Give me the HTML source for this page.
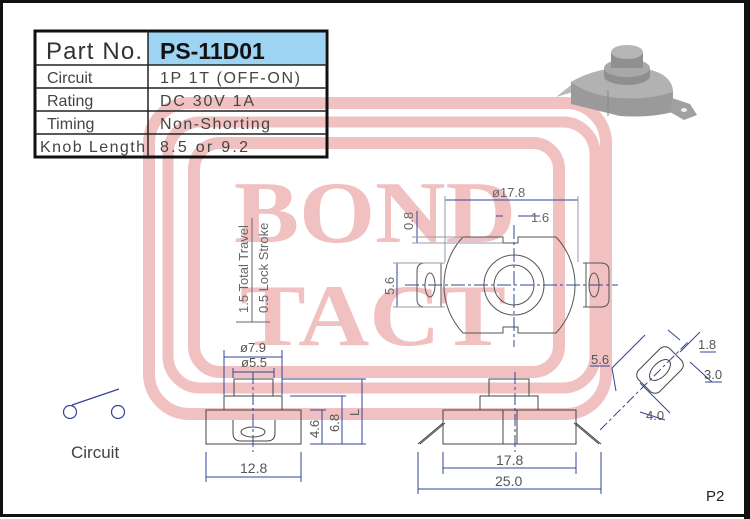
<!DOCTYPE html>
<html><head><meta charset="utf-8"><style>
html,body{margin:0;padding:0;background:#fff;}
svg{display:block;}
.s{font-family:"Liberation Sans",sans-serif;}
.wm{font-family:"Liberation Serif",serif;font-weight:bold;}
</style></head><body>
<svg width="750" height="519" viewBox="0 0 750 519" xmlns="http://www.w3.org/2000/svg">
<rect x="0" y="0" width="750" height="519" fill="#fff"/>
<rect x="1.5" y="1.5" width="745" height="514" fill="none" stroke="#111" stroke-width="3"/>
<rect x="744" y="0" width="6" height="519" fill="#111"/>

<!-- Watermark (under drawing) -->
<g fill="none" stroke="#f1c0c0">
<rect x="149" y="103" width="457" height="311" rx="40" stroke-width="12"/>
<rect x="168" y="122" width="427" height="266" rx="32" stroke-width="11"/>
<rect x="194" y="143" width="365" height="229" rx="26" stroke-width="12"/>
</g>
<g fill="#f1c0c0" class="wm">
<text x="375" y="242" font-size="88" text-anchor="middle" textLength="282" lengthAdjust="spacingAndGlyphs">BOND</text>
<text x="373" y="345" font-size="88" text-anchor="middle" textLength="266" lengthAdjust="spacingAndGlyphs">TACT</text>
</g>

<g class="s">
<!-- Table -->
<rect x="148" y="32" width="177" height="33" fill="#9dd4f3"/>
<rect x="35" y="31" width="292" height="126" fill="none" stroke="#111" stroke-width="3"/>
<g stroke="#222" stroke-width="1.5">
<line x1="35" y1="65" x2="327" y2="65"/><line x1="35" y1="88" x2="327" y2="88"/>
<line x1="35" y1="111" x2="327" y2="111"/><line x1="35" y1="134" x2="327" y2="134"/>
<line x1="148" y1="31" x2="148" y2="157"/>
</g>
<g fill="#444" font-size="16">
<text x="46" y="59" font-size="24" fill="#333" textLength="96" lengthAdjust="spacing">Part No.</text>
<text x="160" y="59" font-size="23" font-weight="bold" fill="#111">PS-11D01</text>
<text x="47" y="83">Circuit</text><text x="160" y="83" textLength="140">1P 1T (OFF-ON)</text>
<text x="47" y="106">Rating</text><text x="160" y="106" textLength="94">DC 30V 1A</text>
<text x="47" y="129">Timing</text><text x="160" y="129" textLength="110">Non-Shorting</text>
<text x="40" y="152" textLength="105">Knob Length</text><text x="160" y="152" textLength="88">8.5 or 9.2</text>
</g>

<!-- photo -->
<g>
<polygon points="556,97 580,78 580,90" fill="#bbb"/>
<path d="M571,82 Q600,65 640,68 Q672,72 673,92 L673,112 Q650,118 620,116 L571,104 Z" fill="#9a9a9a"/>
<path d="M571,82 Q600,65 640,68 Q672,72 673,92 Q650,100 620,98 Q590,96 571,82 Z" fill="#b2b2b2"/>
<line x1="608" y1="90" x2="608" y2="116" stroke="#888"/>
<ellipse cx="627" cy="76" rx="23" ry="9" fill="#8f8f8f"/>
<rect x="604" y="68" width="46" height="8" fill="#8f8f8f"/>
<ellipse cx="627" cy="68" rx="23" ry="9" fill="#a8a8a8"/>
<rect x="611" y="52" width="32" height="16" fill="#909090"/>
<ellipse cx="627" cy="52" rx="16" ry="7" fill="#b5b5b5"/>
<polygon points="672,98 690,104 697,115 684,120 670,112" fill="#a0a0a0"/>
<ellipse cx="684" cy="110" rx="3" ry="2" fill="#eee"/>
</g>

<!-- Top view -->
<g fill="none" stroke="#555" stroke-width="1">
<path d="M463,237 L503,237 L503,243 L518,243 L518,237 L556,237 A70,70 0 0 1 556,333 L518,333 L518,327 L503,327 L503,333 L463,333 A70,70 0 0 1 463,237 Z"/>
<circle cx="514" cy="285" r="30"/><circle cx="514" cy="285" r="20"/>
<path d="M445,263 L425,263 Q417,263 417,271 L417,299 Q417,307 425,307 L445,307"/>
<line x1="441" y1="263" x2="441" y2="307"/>
<ellipse cx="430" cy="285" rx="5" ry="12"/>
<path d="M583,263 L601,263 Q609,263 609,271 L609,299 Q609,307 601,307 L583,307"/>
<line x1="586" y1="263" x2="586" y2="307"/>
<ellipse cx="594" cy="285" rx="5" ry="12"/>
</g>
<g stroke="#334499" stroke-width="1" fill="none">
<line x1="405" y1="285" x2="618" y2="285" stroke-dasharray="14,3,3,3"/>
<line x1="514" y1="225" x2="514" y2="347" stroke-dasharray="14,3,3,3"/>
<line x1="445" y1="200" x2="578" y2="200"/>
<line x1="445" y1="196" x2="445" y2="262" stroke="#99a"/>
<line x1="578" y1="196" x2="578" y2="262" stroke="#99a"/>
<line x1="417" y1="211" x2="417" y2="243"/>
<line x1="412" y1="237" x2="463" y2="237" stroke="#99a"/>
<line x1="412" y1="243" x2="503" y2="243" stroke="#99a"/>
<line x1="496" y1="216" x2="503" y2="216"/><line x1="518" y1="216" x2="540" y2="216"/>
<line x1="397" y1="263" x2="397" y2="307"/>
<line x1="393" y1="263" x2="445" y2="263" stroke="#99a"/>
<line x1="393" y1="307" x2="445" y2="307" stroke="#99a"/>
</g>
<g fill="#666" font-size="13">
<text x="492" y="197">ø17.8</text>
<text x="531" y="222">1.6</text>
<text transform="translate(413,230) rotate(-90)">0.8</text>
<text transform="translate(394,295) rotate(-90)">5.6</text>
<text transform="translate(248,313) rotate(-90)">1.5 Total Travel</text>
<text transform="translate(268,313) rotate(-90)">0.5  Lock  Stroke</text>
</g>
<g stroke="#667" stroke-width="1"><line x1="252" y1="218" x2="252" y2="322"/><line x1="236" y1="322" x2="270" y2="322"/></g>

<!-- Left front view -->
<g fill="none" stroke="#444" stroke-width="1">
<rect x="234" y="379" width="39" height="17"/>
<rect x="224" y="396" width="58" height="14"/>
<rect x="206" y="410" width="95" height="34"/>
<path d="M233,420 L233,433 Q233,441 241,441 L267,441 Q275,441 275,433 L275,420"/>
<ellipse cx="253" cy="432" rx="12" ry="5"/>
</g>
<g stroke="#334499" stroke-width="1" fill="none">
<line x1="253" y1="372" x2="253" y2="452" stroke-dasharray="12,3,3,3"/>
<line x1="224" y1="357" x2="282" y2="357"/><line x1="233" y1="372" x2="274" y2="372"/>
<line x1="224" y1="350" x2="224" y2="395"/><line x1="282" y1="350" x2="282" y2="395"/>
<line x1="233" y1="368" x2="233" y2="378"/><line x1="274" y1="368" x2="274" y2="378"/>
<line x1="322" y1="410" x2="322" y2="444"/><line x1="342" y1="396" x2="342" y2="444"/><line x1="362" y1="379" x2="362" y2="444"/>
<line x1="310" y1="410" x2="326" y2="410"/><line x1="290" y1="396" x2="346" y2="396"/><line x1="282" y1="379" x2="366" y2="379"/>
<line x1="310" y1="444" x2="366" y2="444"/>
<line x1="206" y1="452" x2="206" y2="482"/><line x1="301" y1="452" x2="301" y2="482"/>
<line x1="206" y1="477" x2="301" y2="477"/>
</g>
<g fill="#555" font-size="13">
<text x="240" y="352">ø7.9</text><text x="241" y="367">ø5.5</text>
<text transform="translate(319,438) rotate(-90)">4.6</text>
<text transform="translate(339,432) rotate(-90)">6.8</text>
<text transform="translate(359,416) rotate(-90)">L</text>
<text x="240" y="473" font-size="14">12.8</text>
</g>

<!-- Right front view -->
<g fill="none" stroke="#444" stroke-width="1">
<rect x="489" y="379" width="40" height="17"/>
<rect x="480" y="396" width="58" height="14"/>
<rect x="443" y="410" width="133" height="34"/>
<line x1="503" y1="410" x2="503" y2="444"/><line x1="517" y1="410" x2="517" y2="444"/>
<path d="M443,423 L418,444 M445,423 L420,444 M576,423 L601,444 M574,423 L599,444"/>
</g>
<g stroke="#334499" stroke-width="1" fill="none">
<line x1="515" y1="372" x2="515" y2="452" stroke-dasharray="12,3,3,3"/>
<line x1="443" y1="452" x2="443" y2="474"/><line x1="576" y1="452" x2="576" y2="474"/>
<line x1="418" y1="452" x2="418" y2="494"/><line x1="601" y1="452" x2="601" y2="494"/>
<line x1="443" y1="468" x2="576" y2="468"/><line x1="418" y1="489" x2="601" y2="489"/>
</g>
<g fill="#555" font-size="14"><text x="496" y="465">17.8</text><text x="495" y="486">25.0</text></g>

<!-- Isometric slot -->
<g transform="translate(660,370) rotate(-45)">
<rect x="-22" y="-15" width="44" height="30" rx="7" fill="none" stroke="#444"/>
<ellipse cx="0" cy="0" rx="13" ry="7" fill="none" stroke="#444"/>
</g>
<g stroke="#334499" stroke-width="1" fill="none">
<line x1="600" y1="430" x2="690" y2="340" stroke-dasharray="10,3,3,3"/>
<line x1="612" y1="368" x2="645" y2="335"/><line x1="612" y1="368" x2="616" y2="391"/>
<line x1="640" y1="383" x2="670" y2="413"/>
<line x1="680" y1="352" x2="700" y2="332"/><line x1="690" y1="362" x2="712" y2="382"/>
<line x1="640" y1="412" x2="665" y2="420"/><line x1="668" y1="330" x2="680" y2="340"/>
<line x1="590" y1="366" x2="610" y2="366"/><line x1="700" y1="352" x2="716" y2="352"/>
<line x1="705" y1="382" x2="722" y2="382"/>
</g>
<g fill="#555" font-size="13"><text x="591" y="364">5.6</text><text x="698" y="349">1.8</text><text x="704" y="379">3.0</text><text x="646" y="420">4.0</text></g>

<!-- Circuit symbol -->
<g stroke="#334499" stroke-width="1.2" fill="none">
<circle cx="70" cy="412" r="6.5"/><circle cx="118" cy="412" r="6.5"/>
<line x1="72" y1="405" x2="119" y2="389"/>
</g>
<text x="71" y="458" font-size="17" fill="#444">Circuit</text>
<text x="706" y="501" font-size="15" fill="#222">P2</text>
</g>
</svg>
</body></html>
